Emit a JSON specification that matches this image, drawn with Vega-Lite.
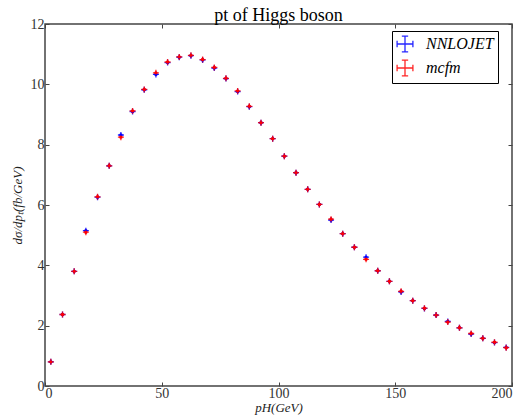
{
  "$schema": "https://vega.github.io/schema/vega-lite/v6.json",
  "width": 467,
  "height": 362,
  "autosize": {"type": "none"},
  "padding": {"left": 45, "top": 24, "right": 9, "bottom": 30},
  "background": "white",
  "title": {"text": "pt of Higgs boson"},
  "config": {
    "title": {"font": "Liberation Serif", "fontSize": 18, "fontWeight": "normal", "color": "black", "offset": 4, "dy": 12, "anchor": "middle", "frame": "group"},
    "view": {"stroke": "#444444", "strokeWidth": 1.5},
    "axis": {"grid": false, "domain": false, "tickSize": -4, "tickColor": "#444444", "labelFont": "Liberation Serif", "labelFontSize": 14, "labelColor": "#333333", "titleFont": "Liberation Serif", "titleFontSize": 13, "titleFontWeight": "normal", "titleFontStyle": "italic", "titleColor": "#222222"}
  },
  "data": {"values": [
    {"pt": 2.5, "s": "NNLOJET", "v": 0.8},
    {"pt": 7.5, "s": "NNLOJET", "v": 2.37},
    {"pt": 12.5, "s": "NNLOJET", "v": 3.8},
    {"pt": 17.5, "s": "NNLOJET", "v": 5.15},
    {"pt": 22.5, "s": "NNLOJET", "v": 6.26},
    {"pt": 27.5, "s": "NNLOJET", "v": 7.3},
    {"pt": 32.5, "s": "NNLOJET", "v": 8.32},
    {"pt": 37.5, "s": "NNLOJET", "v": 9.1},
    {"pt": 42.5, "s": "NNLOJET", "v": 9.82},
    {"pt": 47.5, "s": "NNLOJET", "v": 10.33},
    {"pt": 52.5, "s": "NNLOJET", "v": 10.72},
    {"pt": 57.5, "s": "NNLOJET", "v": 10.9},
    {"pt": 62.5, "s": "NNLOJET", "v": 10.95},
    {"pt": 67.5, "s": "NNLOJET", "v": 10.81},
    {"pt": 72.5, "s": "NNLOJET", "v": 10.54},
    {"pt": 77.5, "s": "NNLOJET", "v": 10.19},
    {"pt": 82.5, "s": "NNLOJET", "v": 9.76},
    {"pt": 87.5, "s": "NNLOJET", "v": 9.26},
    {"pt": 92.5, "s": "NNLOJET", "v": 8.73},
    {"pt": 97.5, "s": "NNLOJET", "v": 8.2},
    {"pt": 102.5, "s": "NNLOJET", "v": 7.62},
    {"pt": 107.5, "s": "NNLOJET", "v": 7.07},
    {"pt": 112.5, "s": "NNLOJET", "v": 6.52},
    {"pt": 117.5, "s": "NNLOJET", "v": 6.02},
    {"pt": 122.5, "s": "NNLOJET", "v": 5.5},
    {"pt": 127.5, "s": "NNLOJET", "v": 5.05},
    {"pt": 132.5, "s": "NNLOJET", "v": 4.6},
    {"pt": 137.5, "s": "NNLOJET", "v": 4.27},
    {"pt": 142.5, "s": "NNLOJET", "v": 3.82},
    {"pt": 147.5, "s": "NNLOJET", "v": 3.47},
    {"pt": 152.5, "s": "NNLOJET", "v": 3.12},
    {"pt": 157.5, "s": "NNLOJET", "v": 2.83},
    {"pt": 162.5, "s": "NNLOJET", "v": 2.57},
    {"pt": 167.5, "s": "NNLOJET", "v": 2.35},
    {"pt": 172.5, "s": "NNLOJET", "v": 2.14},
    {"pt": 177.5, "s": "NNLOJET", "v": 1.93},
    {"pt": 182.5, "s": "NNLOJET", "v": 1.72},
    {"pt": 187.5, "s": "NNLOJET", "v": 1.58},
    {"pt": 192.5, "s": "NNLOJET", "v": 1.44},
    {"pt": 197.5, "s": "NNLOJET", "v": 1.28},
    {"pt": 2.5, "s": "mcfm", "v": 0.8},
    {"pt": 7.5, "s": "mcfm", "v": 2.37},
    {"pt": 12.5, "s": "mcfm", "v": 3.8},
    {"pt": 17.5, "s": "mcfm", "v": 5.1},
    {"pt": 22.5, "s": "mcfm", "v": 6.27},
    {"pt": 27.5, "s": "mcfm", "v": 7.3},
    {"pt": 32.5, "s": "mcfm", "v": 8.25},
    {"pt": 37.5, "s": "mcfm", "v": 9.12},
    {"pt": 42.5, "s": "mcfm", "v": 9.83},
    {"pt": 47.5, "s": "mcfm", "v": 10.38},
    {"pt": 52.5, "s": "mcfm", "v": 10.74},
    {"pt": 57.5, "s": "mcfm", "v": 10.91},
    {"pt": 62.5, "s": "mcfm", "v": 10.96},
    {"pt": 67.5, "s": "mcfm", "v": 10.82},
    {"pt": 72.5, "s": "mcfm", "v": 10.56},
    {"pt": 77.5, "s": "mcfm", "v": 10.2},
    {"pt": 82.5, "s": "mcfm", "v": 9.78},
    {"pt": 87.5, "s": "mcfm", "v": 9.27},
    {"pt": 92.5, "s": "mcfm", "v": 8.73},
    {"pt": 97.5, "s": "mcfm", "v": 8.2},
    {"pt": 102.5, "s": "mcfm", "v": 7.62},
    {"pt": 107.5, "s": "mcfm", "v": 7.07},
    {"pt": 112.5, "s": "mcfm", "v": 6.52},
    {"pt": 117.5, "s": "mcfm", "v": 6.02},
    {"pt": 122.5, "s": "mcfm", "v": 5.53},
    {"pt": 127.5, "s": "mcfm", "v": 5.05},
    {"pt": 132.5, "s": "mcfm", "v": 4.6},
    {"pt": 137.5, "s": "mcfm", "v": 4.2},
    {"pt": 142.5, "s": "mcfm", "v": 3.82},
    {"pt": 147.5, "s": "mcfm", "v": 3.47},
    {"pt": 152.5, "s": "mcfm", "v": 3.14},
    {"pt": 157.5, "s": "mcfm", "v": 2.83},
    {"pt": 162.5, "s": "mcfm", "v": 2.58},
    {"pt": 167.5, "s": "mcfm", "v": 2.35},
    {"pt": 172.5, "s": "mcfm", "v": 2.12},
    {"pt": 177.5, "s": "mcfm", "v": 1.93},
    {"pt": 182.5, "s": "mcfm", "v": 1.74},
    {"pt": 187.5, "s": "mcfm", "v": 1.58},
    {"pt": 192.5, "s": "mcfm", "v": 1.45},
    {"pt": 197.5, "s": "mcfm", "v": 1.27}
  ]},
  "resolve": {"axis": {"x": "independent", "y": "independent"}},
  "layer": [
    {
      "mark": {"type": "point", "shape": "M-1,0H1M0,-1V1", "filled": false, "size": 36, "strokeWidth": 1.3, "opacity": 0.85},
      "encoding": {
        "x": {"field": "pt", "type": "quantitative", "scale": {"domain": [0, 200], "nice": false}, "axis": {"values": [0, 50, 100, 150, 200], "title": "pH(GeV)", "titlePadding": 1, "labelPadding": 4}},
        "y": {"field": "v", "type": "quantitative", "scale": {"domain": [0, 12], "nice": false, "zero": false}, "axis": {"values": [0, 2, 4, 6, 8, 10, 12], "title": "dσ/dpₜ(fb/GeV)", "titlePadding": 6, "labelPadding": 5}},
        "color": {"field": "s", "type": "nominal", "scale": {"domain": ["NNLOJET", "mcfm"], "range": ["#0000ff", "#ff0000"]},
          "legend": {"title": null, "orient": "none", "legendX": 347, "legendY": 7, "symbolType": "M-1,0H1M-1,-0.4V0.4M1,-0.4V0.4M0,-1V1M-0.4,-1H0.4M-0.4,1H0.4", "symbolSize": 250, "symbolStrokeWidth": 1.3, "labelFont": "Liberation Serif", "labelFontStyle": "italic", "labelFontSize": 16, "labelColor": "black", "strokeColor": "black", "fillColor": "white", "padding": 4, "rowPadding": 2, "labelOffset": 12, "labelLimit": 200}}
      }
    },
    {
      "mark": {"type": "point", "shape": "circle", "filled": true, "size": 12, "opacity": 1},
      "encoding": {
        "x": {"field": "pt", "type": "quantitative", "axis": {"orient": "top", "values": [0, 50, 100, 150, 200], "labels": false, "title": null}},
        "y": {"field": "v", "type": "quantitative", "axis": {"orient": "right", "values": [0, 2, 4, 6, 8, 10, 12], "labels": false, "title": null}},
        "color": {"field": "s", "type": "nominal", "legend": null}
      }
    }
  ]
}
